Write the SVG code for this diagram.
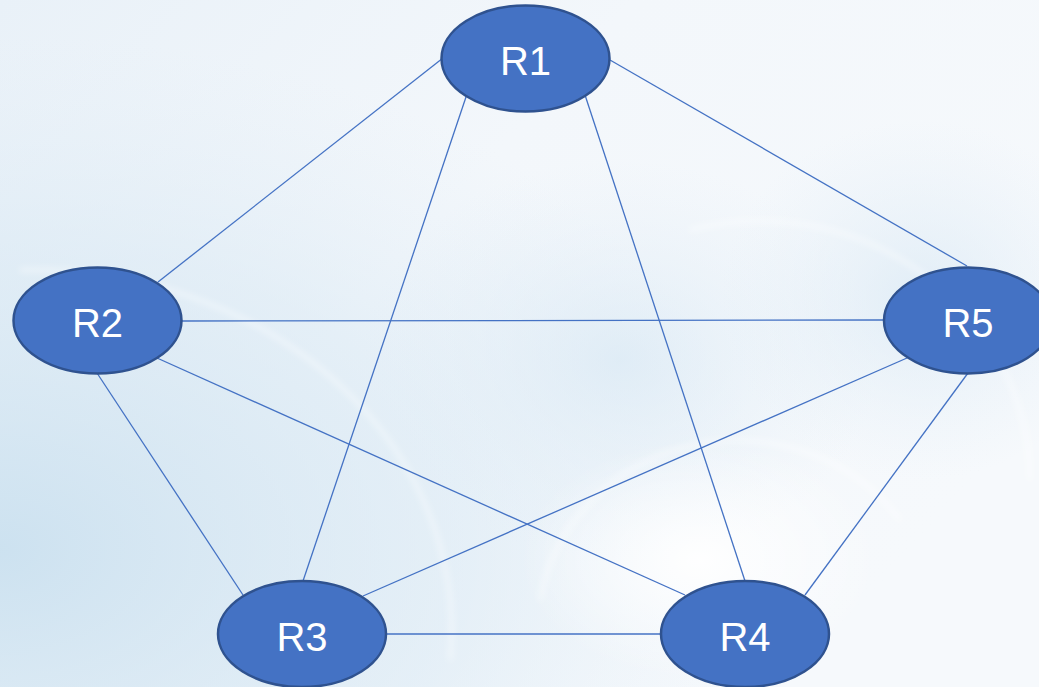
<svg xmlns="http://www.w3.org/2000/svg" width="1039" height="687" viewBox="0 0 1039 687">
  <defs>
    <linearGradient id="bg" x1="0" y1="0" x2="1" y2="0.6">
      <stop offset="0" stop-color="#e9f1f8"/>
      <stop offset="0.45" stop-color="#f3f7fb"/>
      <stop offset="1" stop-color="#f6f9fc"/>
    </linearGradient>
    <radialGradient id="blueLeft" cx="0" cy="0.8" r="0.75">
      <stop offset="0" stop-color="#c6deee" stop-opacity="0.85"/>
      <stop offset="0.6" stop-color="#d6e7f3" stop-opacity="0.5"/>
      <stop offset="1" stop-color="#e1edf6" stop-opacity="0"/>
    </radialGradient>
    <radialGradient id="blueMid" cx="0.5" cy="0.5" r="0.5">
      <stop offset="0" stop-color="#d8e8f4" stop-opacity="0.7"/>
      <stop offset="1" stop-color="#e3eef7" stop-opacity="0"/>
    </radialGradient>
    <radialGradient id="whiteGlow" cx="0.5" cy="0.5" r="0.5">
      <stop offset="0" stop-color="#ffffff" stop-opacity="0.95"/>
      <stop offset="1" stop-color="#ffffff" stop-opacity="0"/>
    </radialGradient>
    <filter id="soft" x="-20%" y="-20%" width="140%" height="140%">
      <feGaussianBlur stdDeviation="3"/>
    </filter>
  </defs>
  <style>
    .link { stroke: #4472c4; stroke-width: 1.3; fill: none; }
    .node { fill: #4472c4; stroke: #2f528f; stroke-width: 2.5; }
    .label { fill: #ffffff; font-family: "Liberation Sans", "Open Sans", sans-serif; font-size: 40px; text-anchor: middle; }
    .ring { fill: none; stroke: #ffffff; stroke-opacity: 0.6; stroke-width: 3; }
  </style>

  <!-- soft background -->
  <g id="background">
    <rect width="1039" height="687" fill="url(#bg)"/>
    <rect width="1039" height="687" fill="url(#blueLeft)"/>
    <ellipse cx="620" cy="360" rx="260" ry="200" fill="url(#blueMid)"/>
    <ellipse cx="920" cy="300" rx="200" ry="180" fill="url(#blueMid)"/>
    <ellipse cx="700" cy="560" rx="180" ry="120" fill="url(#whiteGlow)"/>
    <g filter="url(#soft)">
      <path class="ring" d="M 20 270 A 420 360 0 0 1 450 660"/>
      <path class="ring" d="M 690 230 A 270 260 0 0 1 1030 480"/>
      <path class="ring" d="M 540 600 A 200 190 0 0 1 900 520"/>
    </g>
  </g>

  <!-- connectors -->
  <g id="connectors">
    <line class="link" x1="443" y1="58" x2="158" y2="282"/>
    <line class="link" x1="466" y1="97" x2="303" y2="581"/>
    <line class="link" x1="585" y1="95" x2="745" y2="581"/>
    <line class="link" x1="610" y1="60" x2="967" y2="266"/>
    <line class="link" x1="182" y1="321" x2="884" y2="320"/>
    <line class="link" x1="97" y1="373" x2="243" y2="595"/>
    <line class="link" x1="157" y1="358" x2="685" y2="595"/>
    <line class="link" x1="907" y1="358" x2="363" y2="596"/>
    <line class="link" x1="968" y1="373" x2="805" y2="595"/>
    <line class="link" x1="386" y1="634" x2="661" y2="634"/>
  </g>

  <!-- routers -->
  <g id="R1">
    <ellipse class="node" cx="525.5" cy="58.5" rx="84" ry="53"/>
    <text class="label" x="525.5" y="75">R1</text>
  </g>
  <g id="R2">
    <ellipse class="node" cx="97.5" cy="320.5" rx="84" ry="53"/>
    <text class="label" x="97.5" y="337">R2</text>
  </g>
  <g id="R3">
    <ellipse class="node" cx="302" cy="634" rx="84" ry="53"/>
    <text class="label" x="302" y="651">R3</text>
  </g>
  <g id="R4">
    <ellipse class="node" cx="745" cy="634" rx="84" ry="53"/>
    <text class="label" x="745" y="651">R4</text>
  </g>
  <g id="R5">
    <ellipse class="node" cx="968" cy="320.5" rx="84" ry="53"/>
    <text class="label" x="968" y="337">R5</text>
  </g>
</svg>
